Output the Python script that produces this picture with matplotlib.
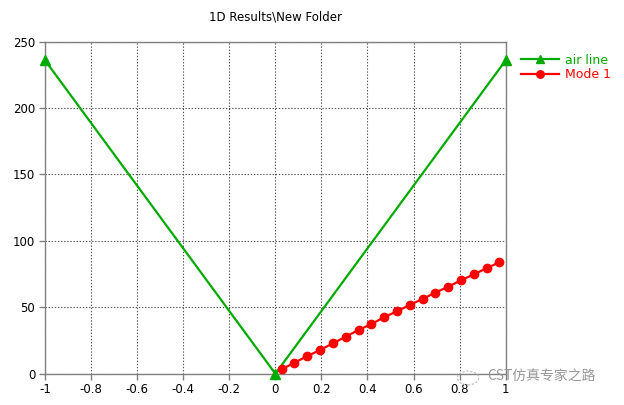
import matplotlib
matplotlib.use("Agg")
import matplotlib.pyplot as plt

title = "1D Results\\New Folder"
air_x = [-1.0, 0.0, 1.0]
air_y = [236.0, 0.0, 236.0]
mode_x = [0.028, 0.083, 0.139, 0.194, 0.250, 0.306, 0.361, 0.417, 0.472,
          0.528, 0.583, 0.639, 0.694, 0.750, 0.806, 0.861, 0.917, 0.972]
mode_y = [3.3, 8.3, 13.3, 17.8, 22.9, 27.9, 32.9, 37.4, 42.5,
          47.0, 51.7, 56.3, 61.0, 65.5, 70.3, 74.8, 79.4, 83.9]
xticks = [-1, -0.8, -0.6, -0.4, -0.2, 0, 0.2, 0.4, 0.6, 0.8, 1]
xtick_labels = ["-1", "-0.8", "-0.6", "-0.4", "-0.2", "0", "0.2", "0.4", "0.6", "0.8", "1"]
yticks = [0, 50, 100, 150, 200, 250]

green = "#00aa00"
red = "#ff0000"

plt.rcParams['font.family'] = ['DejaVu Sans']
fig = plt.figure(figsize=(6.24, 4.05), dpi=100)
ax = fig.add_axes([45/624, 1-373.7/405, (505.7-45)/624, (373.7-41.7)/405])

ax.plot(air_x, air_y, color=green, lw=1.6, marker='^', ms=6.5, clip_on=False,
        zorder=3, label="air line")
ax.plot(mode_x, mode_y, color=red, lw=1.6, marker='o', ms=6, clip_on=False,
        zorder=4, label="Mode 1")

ax.set_xlim(-1, 1)
ax.set_ylim(0, 250)
ax.set_xticks(xticks)
ax.set_xticklabels(xtick_labels)
ax.set_yticks(yticks)
ax.grid(True, color="#505050", linestyle=(0, (1.2, 1.6)), lw=0.8)
for s in ax.spines.values():
    s.set_color("#808080")
    s.set_linewidth(1.0)
ax.tick_params(axis='both', direction='out', length=4, width=1, color="#808080",
               labelsize=8.5, labelcolor="black", pad=3)
ax.set_title(title, fontsize=8.5, pad=15)

leg = ax.legend(loc='upper left', bbox_to_anchor=(1.015, 0.99), frameon=False,
                fontsize=9, handlelength=3.0, handletextpad=0.5, labelspacing=0.1,
                borderaxespad=0.3, markerscale=0.9)
for t, c in zip(leg.get_texts(), [green, red]):
    t.set_color(c)

# watermark
fig.text(487/624, 1-377/405, "CST仿真专家之路", fontsize=10, color="#999999",
         family=['Noto Sans CJK SC', 'DejaVu Sans'], va='center', ha='left')
circ = plt.Circle((468/624, 1-378/405), 0.017, transform=fig.transFigure,
                  fill=False, ec="#bbbbbb", lw=0.8, ls=(0, (2, 1.5)))
fig.add_artist(circ)

fig.savefig("out.png", dpi=100)
